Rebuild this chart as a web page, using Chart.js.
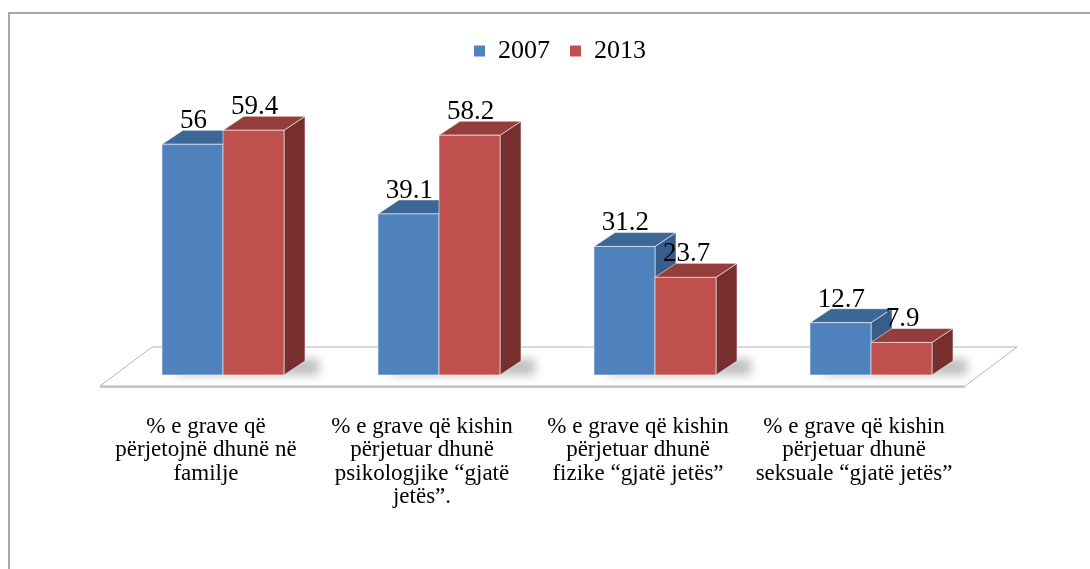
<!DOCTYPE html>
<html><head><meta charset="utf-8">
<script src="https://cdn.jsdelivr.net/npm/chart.js@4.4.0/dist/chart.umd.min.js"></script>
<style>
html,body{margin:0;padding:0;background:#fff;overflow:hidden;width:1090px;height:569px;}
#frame{position:absolute;left:8px;top:12px;width:1200px;height:700px;border:2px solid #a8a8a8;box-sizing:border-box;}
#wrap{position:absolute;left:0;top:0;width:1120px;height:569px;}
</style></head><body>
<div id="frame"></div>
<div id="wrap"><canvas id="c" width="1120" height="569"></canvas></div>
<script>
const categories = [
  ["% e grave që", "përjetojnë dhunë në", "familje"],
  ["% e grave që kishin", "përjetuar dhunë", "psikologjike “gjatë", "jetës”."],
  ["% e grave që kishin", "përjetuar dhunë", "fizike “gjatë jetës”"],
  ["% e grave që kishin", "përjetuar dhunë", "seksuale “gjatë jetës”"]
];
const seriesNames = ["2007", "2013"];
const values2007 = [56, 39.1, 31.2, 12.7];
const values2013 = [59.4, 58.2, 23.7, 7.9];

const FONT = "Liberation Serif";
const DX = 21, DY = 14;
const PX_PER_UNIT = 4.12;
const faces = [
  {front: '#4F81BD', top: '#3D6796', side: '#385D8A'},
  {front: '#C0504D', top: '#953D3A', side: '#772F2D'}
];

function poly(ctx, pts, fill, stroke) {
  ctx.beginPath();
  ctx.moveTo(pts[0][0], pts[0][1]);
  for (let i = 1; i < pts.length; i++) ctx.lineTo(pts[i][0], pts[i][1]);
  ctx.closePath();
  if (fill) { ctx.fillStyle = fill; ctx.fill(); }
  if (stroke) { ctx.strokeStyle = stroke; ctx.lineWidth = 1; ctx.stroke(); }
}

const threeD = {
  id: 'threeD',
  beforeDatasetsDraw(chart) {
    const ctx = chart.ctx, ca = chart.chartArea, base = ca.bottom;
    ctx.save();
    // floor
    const fl = [[ca.left - 15, base + 11], [ca.right - 14, base + 11], [ca.right + 38, base - 28], [ca.left + 37, base - 28]];
    poly(ctx, [[fl[0][0], fl[0][1]], [fl[1][0], fl[1][1]], [fl[1][0], fl[1][1] + 2], [fl[0][0], fl[0][1] + 2]], '#c8c8c8');
    poly(ctx, fl, '#ffffff', '#b4b4b4');
    const metas = [chart.getDatasetMeta(0).data, chart.getDatasetMeta(1).data];
    // shadows
    ctx.save();
    ctx.filter = 'blur(5px)';
    for (let i = 0; i < categories.length; i++) {
      const b0 = metas[0][i], b1 = metas[1][i];
      const l = b0.x - b0.width / 2, r = b1.x + b1.width / 2;
      poly(ctx, [[l + 10, base], [r + DX + 14, base], [r + DX + 14, base - DY - 2], [l + DX + 10, base - DY - 2]], 'rgba(0,0,0,0.25)');
    }
    ctx.restore();
    // bars
    for (let i = 0; i < categories.length; i++) {
      for (let d = 0; d < 2; d++) {
        const b = metas[d][i];
        const l = b.x - b.width / 2, r = b.x + b.width / 2, t = b.y, bt = b.base;
        const c = faces[d];
        const edge = 'rgba(255,255,255,0.55)';
        poly(ctx, [[r, t], [r + DX, t - DY], [r + DX, bt - DY], [r, bt]], c.side, edge);
        poly(ctx, [[l, t], [l + DX, t - DY], [r + DX, t - DY], [r, t]], c.top, edge);
        poly(ctx, [[l, t], [r, t], [r, bt], [l, bt]], c.front, edge);
      }
    }
    // data labels
    ctx.fillStyle = '#000';
    ctx.font = '27px "' + FONT + '"';
    ctx.textAlign = 'center';
    ctx.textBaseline = 'alphabetic';
    const vals = [values2007, values2013];
    for (let d = 0; d < 2; d++) {
      for (let i = 0; i < categories.length; i++) {
        const b = metas[d][i];
        ctx.fillText(String(vals[d][i]), b.x + 1, b.y - DY - 2);
      }
    }
    ctx.restore();
    return false;
  }
};

const chart = new Chart(document.getElementById('c'), {
  type: 'bar',
  data: {
    labels: categories,
    datasets: [
      {label: seriesNames[0], data: values2007, backgroundColor: faces[0].front, categoryPercentage: 0.565, barPercentage: 1.0},
      {label: seriesNames[1], data: values2013, backgroundColor: faces[1].front, categoryPercentage: 0.565, barPercentage: 1.0}
    ]
  },
  plugins: [threeD],
  options: {
    responsive: false,
    animation: false,
    devicePixelRatio: 1,
    layout: {padding: {top: 18, bottom: 0, left: 0, right: 0}},
    plugins: {
      legend: {
        position: 'top',
        labels: {font: {family: FONT, size: 26}, color: '#000', boxWidth: 11, boxHeight: 11, padding: 20}
      },
      tooltip: {enabled: false}
    },
    scales: {
      x: {
        grid: {display: false}, border: {display: false},
        ticks: {font: {family: FONT, size: 23, lineHeight: 1.02}, color: '#000', padding: 32, labelOffset: -17, maxRotation: 0, autoSkip: false},
        afterFit(s) { s.height = 194; }
      },
      y: {
        min: 0, max: 72,
        grid: {display: false}, border: {display: false},
        ticks: {display: false},
        afterFit(s) { s.width = 115; }
      },
      y2: {
        position: 'right',
        grid: {display: false}, border: {display: false},
        ticks: {display: false},
        afterFit(s) { s.width = 141; }
      }
    }
  }
});
const ca = chart.chartArea;
chart.options.scales.y.max = (ca.bottom - ca.top) / PX_PER_UNIT;
chart.update();
</script>
</body></html>
